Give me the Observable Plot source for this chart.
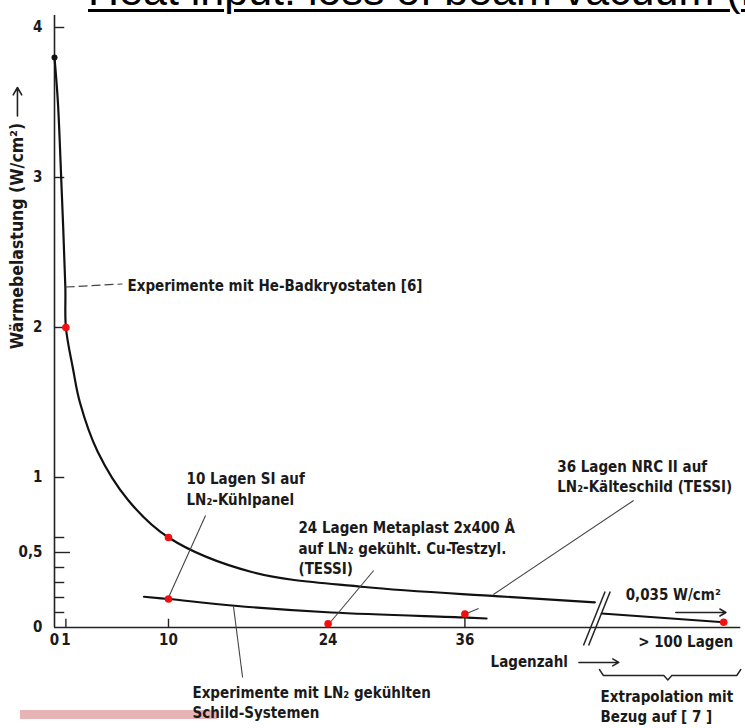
<!DOCTYPE html>
<html><head><meta charset="utf-8">
<script src="https://cdn.jsdelivr.net/npm/d3@7"></script>
<script src="https://cdn.jsdelivr.net/npm/@observablehq/plot@0.6"></script>
<style>
html,body{margin:0;padding:0;background:#fff;}
#wrap{position:relative;width:745px;height:728px;overflow:hidden;}
#chart{position:absolute;left:0;top:0;}
#title{position:absolute;left:88px;top:-31px;font:43px/1 "Liberation Sans",Arial,sans-serif;text-decoration:underline;text-decoration-thickness:3px;text-underline-offset:4px;white-space:nowrap;color:#000;}
#pink{position:absolute;left:20px;top:710px;width:197px;height:9px;background:#e6b4b4;}
</style></head>
<body><div id="wrap"><div id="pink"></div><div id="chart"></div><div id="title">Heat input: loss of beam vacuum (LHe)</div></div>
<script>
// Upper curve: experiments with He bath cryostats
const heLayers = [0, 0.3, 0.6, 0.95, 1, 1.61, 2.23, 3.8, 6.45, 10, 17.3, 27.2, 39, 47.4];
const heLoad   = [3.8, 3.5, 2.97, 2.27, 2.0, 1.73, 1.5, 1.17, 0.85, 0.6, 0.37, 0.27, 0.208, 0.168];
// Lower curve: experiments with LN2 cooled shield systems
const lnLayers = [7.85, 10, 15.8, 24.3, 36, 37.9];
const lnLoad   = [0.205, 0.19, 0.145, 0.1, 0.067, 0.06];
// Extrapolation beyond the axis break (> 100 layers)
const exLayers = [48, 58.7];
const exLoad   = [0.093, 0.035];
// Measured points (red)
const ptLayers = [1, 10, 10, 24, 36, 58.7];
const ptLoad   = [2.0, 0.6, 0.19, 0.025, 0.09, 0.035];
// Axis ticks
const xTicks = [0, 1, 10, 24, 36];
const xTickLabels = ["0", "1", "10", "24", "36"];
const yTicks = [0, 0.5, 1, 2, 3, 4];
const yTickLabels = ["0", "0,5", "1", "2", "3", "4"];
const yMinor = [0.1, 0.2, 0.3, 0.4, 0.6];
const yLabel = "Wärmebelastung (W/cm²)";
// Annotations (data coordinates: layers, W/cm²)
const notes = [
  {x: 6.4,  y: 2.273, t: "Experimente mit He-Badkryostaten [6]"},
  {x: 11.58, y: 0.99, t: "10 Lagen SI auf"},
  {x: 11.58, y: 0.85, t: "LN₂-Kühlpanel"},
  {x: 21.4, y: 0.66, t: "24 Lagen Metaplast 2x400 Å"},
  {x: 21.4, y: 0.525, t: "auf LN₂ gekühlt. Cu-Testzyl."},
  {x: 21.4, y: 0.39, t: "(TESSI)"},
  {x: 44.1, y: 1.067, t: "36 Lagen NRC II auf"},
  {x: 44.1, y: 0.933, t: "LN₂-Kälteschild (TESSI)"},
  {x: 50.1, y: 0.213, t: "0,035 W/cm²"},
  {x: 51.2, y: -0.1, t: "> 100 Lagen"},
  {x: 38.25, y: -0.233, t: "Lagenzahl"},
  {x: 47.9, y: -0.467, t: "Extrapolation mit"},
  {x: 47.9, y: -0.6, t: "Bezug auf [ 7 ]"},
  {x: 12.1, y: -0.44, t: "Experimente mit LN₂ gekühlten"},
  {x: 12.1, y: -0.573, t: "Schild-Systemen"}
];
const leaders = [
  {x1: 13.25, y1: 0.747, x2: 10, y2: 0.2},
  {x1: 28.0, y1: 0.38, x2: 24.2, y2: 0.035},
  {x1: 50.8, y1: 0.847, x2: 38.5, y2: 0.22},
  {x1: 37.2, y1: 0.127, x2: 36.2, y2: 0.095},
  {x1: 15.7, y1: 0.14, x2: 16.5, y2: -0.333}
];
const heLeader = [{x1: 0.97, y1: 2.27, x2: 5.96, y2: 2.29}];

const he = heLayers.map((x, i) => ({x, y: heLoad[i]}));
const ln = lnLayers.map((x, i) => ({x, y: lnLoad[i]}));
const ex = exLayers.map((x, i) => ({x, y: exLoad[i]}));
const pts = ptLayers.map((x, i) => ({x, y: ptLoad[i]}));

// axis break marks and brace
const brk = [0, 0.45].map(o => ({x1: 48.3 + o, y1: 0.24, x2: 46.4 + o, y2: -0.12}));
const b0 = 47.8, b1 = 60.2, bm = 53.8;
const brace = [[b0, -0.28], [b0 + 0.35, -0.32], [bm - 0.35, -0.32], [bm, -0.35], [bm + 0.35, -0.32], [b1 - 0.35, -0.32], [b1, -0.28]];

const font = "'DejaVu Sans Condensed','DejaVu Sans',sans-serif";
const fs = 15;
const chart = Plot.plot({
  width: 745, height: 728,
  marginLeft: 54, marginRight: 7, marginTop: 12, marginBottom: 101,
  x: {domain: [0, 60], axis: null},
  y: {domain: [0, 4.1], axis: null},
  style: {fontFamily: font, fontSize: "15px", color: "#1a1a1a", background: "transparent", overflow: "visible"},
  marks: [
    // axes
    Plot.ruleX([0], {y1: 0, y2: 4.08, stroke: "#222", strokeWidth: 1.6}),
    Plot.ruleY([0], {x1: 0, x2: 60.2, stroke: "#222", strokeWidth: 1.6}),
    Plot.ruleY(yTicks.slice(1), {x1: 0, x2: d => d === 0.5 ? 1.4 : 0.9, stroke: "#222", strokeWidth: 1.4}),
    Plot.ruleY(yMinor, {x1: 0, x2: 0.9, stroke: "#222", strokeWidth: 1.4}),
    Plot.ruleX([1, 10], {y1: 0, y2: 0.055, stroke: "#222", strokeWidth: 1.4}),
    Plot.ruleX([36], {y1: 0, y2: 0.09, stroke: "#222", strokeWidth: 1.4}),
    Plot.text(xTicks, {x: d => d, y: 0, dy: 13, text: (d, i) => xTickLabels[i], fontSize: fs, fontWeight: "bold", lineAnchor: "middle"}),
    Plot.text(yTicks, {x: 0, y: d => d, dx: -12, text: (d, i) => yTickLabels[i], fontSize: fs, fontWeight: "bold", textAnchor: "end"}),
    Plot.text([yLabel], {x: -3.25, y: 2.61, text: d => d, rotate: -90, fontSize: 17.5, fontWeight: "bold"}),
    Plot.arrow([0], {x1: -3.25, y1: 3.41, x2: -3.25, y2: 3.6, headLength: 8, strokeWidth: 1.6, stroke: "#222"}),
    // curves
    Plot.line(he, {x: "x", y: "y", curve: "catmull-rom", stroke: "#111", strokeWidth: 2.2}),
    Plot.line(ln, {x: "x", y: "y", curve: "catmull-rom", stroke: "#111", strokeWidth: 2.2}),
    Plot.line(ex, {x: "x", y: "y", stroke: "#111", strokeWidth: 2}),
    Plot.dot([he[0]], {x: "x", y: "y", r: 3, fill: "#111"}),
    // break marks & brace
    Plot.link(brk, {x1: "x1", y1: "y1", x2: "x2", y2: "y2", stroke: "#222", strokeWidth: 1.5}),
    Plot.line(brace, {x: d => d[0], y: d => d[1], stroke: "#222", strokeWidth: 1.4}),
    // leaders
    Plot.link(leaders, {x1: "x1", y1: "y1", x2: "x2", y2: "y2", stroke: "#444", strokeWidth: 1.1}),
    Plot.link(heLeader, {x1: "x1", y1: "y1", x2: "x2", y2: "y2", stroke: "#444", strokeWidth: 1.2, strokeDasharray: "9,4"}),
    Plot.arrow([0], {x1: 54.5, y1: 0.1, x2: 58.9, y2: 0.1, headLength: 7, stroke: "#222", strokeWidth: 1.5}),
    Plot.arrow([0], {x1: 46.0, y1: -0.233, x2: 49.5, y2: -0.233, headLength: 7, stroke: "#222", strokeWidth: 1.5}),
    // points
    Plot.dot(pts, {x: "x", y: "y", r: 3.8, fill: "#f01010"}),
    // notes
    Plot.text(notes, {x: "x", y: "y", text: "t", textAnchor: "start", lineAnchor: "middle", fontSize: fs, fontWeight: "bold"})
  ]
});
document.getElementById("chart").appendChild(chart);
</script>
</body></html>
